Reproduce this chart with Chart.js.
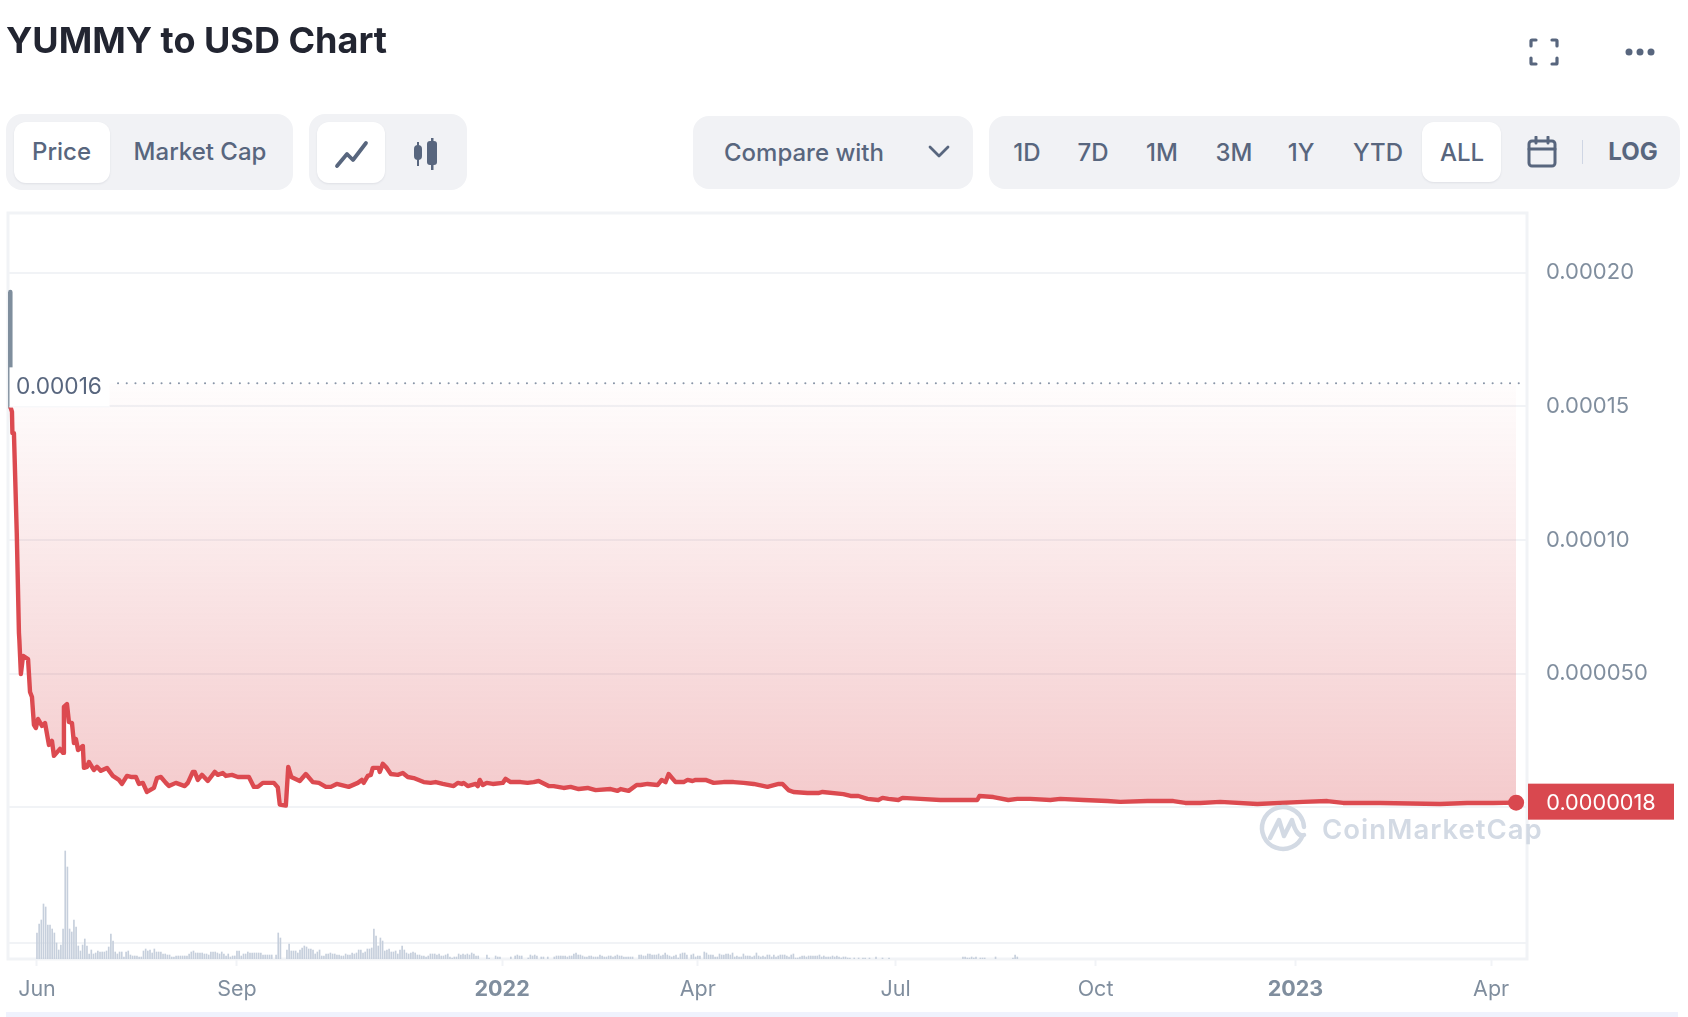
<!DOCTYPE html>
<html>
<head>
<meta charset="utf-8">
<title>YUMMY to USD Chart</title>
<script src="https://cdn.jsdelivr.net/npm/chart.js@4"></script>
<style>
  html, body { margin: 0; padding: 0; background: #fff; }
  body { position: relative; width: 1688px; height: 1017px; overflow: hidden; font-family: Inter, sans-serif; color: #58667e; }
  canvas { position: absolute; left: 0; top: 0; }
  .abs { position: absolute; }
  .title { left: 6px; top: 18px; font-size: 36px; line-height: 44px; font-weight: 700; color: #222531; white-space: nowrap; }
  .group { background: #f1f2f5; border-radius: 16px; }
  .on { background: #fff; border-radius: 12px; box-shadow: 0 1px 2px rgba(88,102,126,0.12); }
  .lbl { top: 134px; height: 36px; line-height: 36px; font-size: 24px; font-weight: 500; white-space: nowrap; transform: translateX(-50%); }
  .strip { left: 6px; top: 1012px; width: 1672px; height: 5px; background: #eff2fd; }
</style>
</head>
<body>
<canvas id="priceChart" width="1688" height="1017"></canvas>

<div class="abs title">YUMMY to USD Chart</div>

<div class="abs group" style="left:6px;top:114px;width:287px;height:76px"></div>
<div class="abs on" style="left:14px;top:122px;width:96px;height:61px"></div>
<div class="abs lbl" style="left:61.5px">Price</div>
<div class="abs lbl" style="left:200px">Market Cap</div>

<div class="abs group" style="left:309px;top:114px;width:158px;height:76px"></div>
<div class="abs on" style="left:317px;top:122px;width:68px;height:61px"></div>
<svg class="abs" style="left:334px;top:139px" width="36" height="30" viewBox="0 0 36 30" fill="none" stroke="#58667e" stroke-width="3.8" stroke-linecap="round" stroke-linejoin="round"><path d="M3 27 L13 15 L19 21 L32 4"/></svg>
<svg class="abs" style="left:412px;top:138px" width="28" height="32" viewBox="0 0 28 32" fill="#58667e"><rect x="2" y="7" width="8" height="15" rx="4"/><rect x="5" y="4" width="2" height="24"/><rect x="15" y="3" width="10" height="24" rx="3"/><rect x="19" y="0" width="2.5" height="32"/></svg>

<div class="abs group" style="left:693px;top:116px;width:280px;height:73px"></div>
<div class="abs lbl" style="left:804px;top:135px">Compare with</div>
<svg class="abs" style="left:927px;top:144px" width="24" height="16" viewBox="0 0 24 16" fill="none" stroke="#58667e" stroke-width="2.8" stroke-linecap="round" stroke-linejoin="round"><path d="M3 3 L12 12 L21 3"/></svg>

<div class="abs group" style="left:989px;top:116px;width:691px;height:73px"></div>
<div class="abs on" style="left:1422px;top:122px;width:79px;height:60px"></div>
<div class="abs lbl" style="left:1027px;top:135px">1D</div>
<div class="abs lbl" style="left:1093px;top:135px">7D</div>
<div class="abs lbl" style="left:1162px;top:135px">1M</div>
<div class="abs lbl" style="left:1234px;top:135px">3M</div>
<div class="abs lbl" style="left:1301px;top:135px">1Y</div>
<div class="abs lbl" style="left:1378px;top:135px">YTD</div>
<div class="abs lbl" style="left:1462px;top:135px">ALL</div>
<svg class="abs" style="left:1527px;top:136px" width="30" height="32" viewBox="0 0 30 32" fill="none" stroke="#58667e" stroke-width="3" stroke-linecap="round"><rect x="2" y="5" width="26" height="25" rx="3"/><path d="M2 13 H28 M9 1 V7 M21 1 V7"/></svg>
<div class="abs" style="left:1582px;top:140px;width:1px;height:24px;background:#cfd6e4"></div>
<div class="abs lbl" style="left:1633px;font-weight:700">LOG</div>

<svg class="abs" style="left:1529px;top:38px" width="30" height="28" viewBox="0 0 30 28" fill="none" stroke="#58667e" stroke-width="3.2" stroke-linecap="round" stroke-linejoin="round"><path d="M2 8 V3 Q2 2 3 2 H7 M23 2 H27 Q28 2 28 3 V8 M28 20 V25 Q28 26 27 26 H23 M7 26 H3 Q2 26 2 25 V20"/></svg>
<svg class="abs" style="left:1624px;top:46px" width="32" height="12" viewBox="0 0 32 12" fill="#58667e"><circle cx="5" cy="6" r="3.5"/><circle cx="16" cy="6" r="3.5"/><circle cx="27" cy="6" r="3.5"/></svg>

<div class="abs strip"></div>

<script>
// all days are counted from 1 Jun 2021
const tickDays = [0, 92, 214, 304, 395, 487, 579, 669];
const tickLabels = ["Jun", "Sep", "2022", "Apr", "Jul", "Oct", "2023", "Apr"];
const yearLabels = ["2022", "2023"];

const yTicks = [0, 0.00005, 0.0001, 0.00015, 0.0002];
const yTickLabels = ["", "0.000050", "0.00010", "0.00015", "0.00020"];

const baselinePrice = 0.0001586;
const baselineLabel = "0.00016";
const lastPriceLabel = "0.0000018";

const priceDays = [
  -12.4, -12.3, -12.2, -11.5, -11.3, -10.6, -9.3, -8.3, -8.1, -7.4, -6.4, -4.1, -3.2, -2.3, -1.4, -0.5,
  0.5, 2.3, 3.7, 5.5, 6.9, 7.8, 10.6, 12, 12.4, 13.8, 14.7, 16.1, 17, 17.9, 18.9, 21.1,
  21.6, 23, 23.9, 26.2, 27.6, 29.4, 32.2, 34.9, 37.7, 39.1, 41.4, 43.2, 45.5, 46.9, 48.7, 50.6,
  53.8, 55.2, 57, 59.3, 60.7, 63.9, 68, 69.4, 71.7, 72.6, 74, 75.9, 78.6, 81.8, 83.2, 85.5,
  86.9, 89.7, 92.4, 97.5, 99.8, 101.6, 103.9, 109, 110.8, 111.7, 114.5, 115.6, 117, 120.9, 123.7, 126.9,
  129.7, 132.9, 135.2, 137.9, 143.4, 147.6, 149.4, 150.3, 152.2, 153.6, 154.5, 157.2, 157.7, 159.1, 160.9, 162.8,
  166, 168.3, 170.6, 173.3, 177.9, 181.1, 183.4, 186.7, 191.7, 193.6, 195.4, 196.3, 198.2, 201.8, 202.8, 203.7,
  205.1, 206.9, 209.7, 214.3, 215.6, 217.9, 222.5, 225.7, 228.5, 230.8, 235.4, 237.7, 242.3, 245.5, 249.2, 253.3,
  257, 263.9, 267.1, 268.5, 272.2, 275.9, 277.7, 280.9, 285.5, 287.4, 289.2, 290.6, 293.8, 297.5, 299.3, 301.6,
  303, 307.6, 311.3, 315.9, 320.5, 325.1, 329.7, 336.1, 341.2, 343, 345.7, 348, 354.5, 359.5, 361.4, 371,
  374.3, 377.9, 382.1, 387.1, 389, 391.7, 396.3, 398.2, 406.4, 415.6, 421.6, 432.6, 433.6, 440, 446.9, 451,
  457, 466.2, 470.8, 481.4, 492.4, 498.4, 510.8, 522.8, 528.3, 535.2, 544.4, 561.4, 582.5, 593.6, 600.9, 617.9,
  645.5, 658, 669.9, 680.5
];

// price in units of 0.00001 USD
const priceE5 = [
  19.28, 16.36, 14.98, 14.79, 14.0, 14.0, 10.27, 6.53, 6.26, 4.99, 5.67, 5.55, 4.32, 4.13, 3.09, 2.97,
  3.31, 3.05, 3.16, 2.34, 2.49, 1.93, 2.19, 2.04, 3.76, 3.87, 3.20, 3.16, 2.41, 2.56, 2.15, 2.30,
  1.48, 1.52, 1.70, 1.40, 1.52, 1.37, 1.48, 1.18, 1.03, 0.88, 1.18, 1.14, 1.14, 0.88, 0.92, 0.58,
  0.73, 1.10, 1.14, 0.92, 0.80, 0.92, 0.80, 0.92, 1.33, 1.33, 1.03, 1.22, 0.99, 1.33, 1.22, 1.29,
  1.18, 1.22, 1.14, 1.14, 0.77, 0.77, 0.92, 0.92, 0.75, 0.11, 0.07, 1.52, 1.14, 0.99, 1.25, 0.95,
  0.92, 0.77, 0.77, 0.88, 0.77, 0.92, 1.03, 0.92, 1.18, 1.22, 1.48, 1.48, 1.33, 1.63, 1.48, 1.25,
  1.22, 1.29, 1.14, 1.10, 0.95, 0.92, 0.95, 0.88, 0.80, 0.92, 0.88, 0.92, 0.80, 0.88, 0.80, 1.03,
  0.84, 0.92, 0.88, 0.92, 1.07, 0.95, 0.95, 0.92, 0.95, 0.99, 0.80, 0.80, 0.73, 0.77, 0.69, 0.73,
  0.65, 0.69, 0.62, 0.69, 0.62, 0.84, 0.84, 0.88, 0.84, 1.03, 0.95, 1.25, 0.95, 0.95, 1.03, 0.99,
  1.03, 1.03, 0.92, 0.95, 0.95, 0.92, 0.88, 0.77, 0.88, 0.88, 0.65, 0.58, 0.54, 0.54, 0.58, 0.50,
  0.43, 0.43, 0.32, 0.28, 0.36, 0.32, 0.28, 0.36, 0.32, 0.28, 0.28, 0.28, 0.43, 0.39, 0.28, 0.32,
  0.32, 0.28, 0.32, 0.28, 0.24, 0.21, 0.24, 0.24, 0.17, 0.17, 0.21, 0.13, 0.21, 0.24, 0.17, 0.17,
  0.13, 0.17, 0.17, 0.18
];

// volume, relative units, one value per day from the start day
const volumeA = [26, 35, 39, 55, 52, 34, 34, 30, 26, 16, 9, 14, 30, 108, 92, 30, 27, 39, 32, 13, 8, 14, 20, 13, 5, 9, 5, 6, 8, 7, 7, 7, 8, 12, 25, 18, 7, 5, 7, 7, 2, 7, 8, 4, 3, 3, 3, 2, 2, 8, 10, 8, 9, 6, 10, 7, 7, 7];
const volumeAStart = 0;
const volumeB = [5, 5, 4, 4, 2, 2, 3, 3, 3, 3, 3, 3, 5, 7, 8, 6, 6, 6, 6, 5, 5, 4, 7, 7, 7, 6, 5, 7, 5, 3, 5, 2, 3, 3, 8, 8, 3, 5, 5, 7, 6];
const volumeBStart = 58;
const volumeC = [6, 6, 6, 6, 6, 4, 4, 4, 4, 4, 0, 4, 26, 21, 0, 0, 9, 15, 8, 8, 8, 6, 9, 11, 13, 12, 10, 10, 9, 5, 7, 9, 3, 3, 5, 5, 6, 5, 5, 4, 4, 3, 3, 5, 4, 4, 6, 5, 6, 9, 9, 6, 7, 10, 10, 11, 30, 23, 13, 21, 18, 8, 9, 10, 7, 7, 8, 5, 9, 13, 9, 6, 5, 6, 7, 6, 4, 4, 3, 3, 2, 3, 5, 5, 5, 4, 5, 3, 3, 4, 5, 2, 1, 2, 2, 5, 4, 5, 4, 5, 4, 6, 5, 3, 3, 0, 0, 0, 4, 1, 0, 0, 3, 2, 2, 0, 0, 0, 0, 2, 0, 3, 4, 3, 3, 0, 0, 1, 4, 3, 4, 3, 0, 2, 2, 0, 2];
const volumeCStart = 99;
const volumeD = [2, 3, 3, 3, 3, 3, 2, 3, 3, 5, 6, 4, 4, 3, 2, 2, 3, 3, 2, 2, 2, 4, 3, 2, 2, 3, 3, 2, 3, 4, 3, 3, 2, 2, 2, 2, 2, 0, 0, 4, 4, 3, 3, 5, 5, 4, 4, 4, 5, 3, 4, 6, 4, 3, 2, 3, 4, 1, 5, 6, 6, 4, 0, 4, 5, 2, 3, 3, 0, 7, 6, 4, 4, 4, 2, 2, 5, 4, 4, 5, 5, 4, 6, 2, 3, 2, 2, 5, 3, 3, 3, 2, 3, 6, 3, 2, 3, 2, 4, 4, 2, 4, 2, 3, 4, 4, 4, 3, 2, 4, 5, 1, 1, 2, 3, 3, 2, 3, 3, 3, 3, 3, 4, 2, 3, 2, 2, 2, 3, 2, 3, 2, 1, 2, 2, 1, 1, 0, 1, 0, 1, 0, 1, 1];
const volumeDStart = 238;
const volumeLateDays = [383, 386, 389, 392, 426, 427, 428, 429, 430, 431, 432, 434, 435, 436, 441, 449, 450, 451];
const volumeLate = [1, 2, 1, 1, 2, 2, 1, 1, 2, 1, 2, 1, 1, 1, 2, 1, 4, 2];

const red = "#dc4a50";
const lineGrey = "#7f8e9d";
const gridColor = "#f1f3f6";
const tickColor = "#808e9e";

const pricePoints = priceDays.map((d, i) => ({ x: d, y: priceE5[i] * 1e-5 }));

const volumePoints = [];
const addRun = (start, values) => {
  values.forEach((v, i) => {
    if (v > 0) volumePoints.push({ x: start + i, y: v });
  });
};
addRun(volumeAStart, volumeA);
addRun(volumeBStart, volumeB);
addRun(volumeCStart, volumeC);
addRun(volumeDStart, volumeD);
volumeLateDays.forEach((d, i) => volumePoints.push({ x: d, y: volumeLate[i] }));

const overlays = {
  id: "overlays",
  beforeDatasetsDraw(chart) {
    const { ctx, chartArea: a } = chart;
    ctx.save();
    ctx.strokeStyle = gridColor;
    ctx.lineWidth = 3;
    ctx.strokeRect(a.left, a.top, a.right - a.left, a.bottom - a.top);
    ctx.restore();
  },
  afterDatasetsDraw(chart) {
    const { ctx, chartArea: a, scales } = chart;
    const baseY = scales.y.getPixelForValue(baselinePrice);
    const lastY = scales.y.getPixelForValue(priceE5[priceE5.length - 1] * 1e-5);
    ctx.save();

    // starting price marker
    ctx.fillStyle = "#ffffff";
    ctx.fillRect(a.left + 1.5, baseY - 16, 100, 40);
    ctx.fillStyle = "#f3f4f7";
    ctx.fillRect(a.left + 1.5, baseY + 23, 100, 1);
    ctx.strokeStyle = "#8a96a8";
    ctx.lineWidth = 2;
    ctx.lineCap = "round";
    ctx.setLineDash([0.1, 8.6]);
    ctx.beginPath();
    ctx.moveTo(118, baseY);
    ctx.lineTo(a.right - 6, baseY);
    ctx.stroke();
    ctx.setLineDash([]);
    ctx.fillStyle = "#58667e";
    ctx.font = "400 22.7px Inter";
    ctx.textAlign = "left";
    ctx.textBaseline = "middle";
    ctx.fillText(baselineLabel, 16, baseY + 3.5);

    // watermark
    ctx.fillStyle = "#d3dae4";
    ctx.font = "600 27.5px Inter";
    ctx.letterSpacing = "1px";
    ctx.fillText("CoinMarketCap", 1322, 831);
    ctx.letterSpacing = "0px";
    ctx.strokeStyle = "#d3dae4";
    ctx.lineWidth = 4.5;
    ctx.beginPath();
    ctx.arc(1283, 828, 21, 0.35, Math.PI * 2 - 0.05, false);
    ctx.stroke();
    ctx.lineCap = "round";
    ctx.lineJoin = "round";
    ctx.beginPath();
    ctx.moveTo(1270, 838);
    ctx.lineTo(1279, 820);
    ctx.lineTo(1284, 836);
    ctx.lineTo(1292, 820);
    ctx.quadraticCurveTo(1297, 838, 1304, 835);
    ctx.stroke();

    // last price tag
    ctx.fillStyle = "#d9484f";
    ctx.fillRect(1528, lastY - 19, 146, 36);
    ctx.fillStyle = "#ffffff";
    ctx.font = "400 21.7px Inter";
    ctx.textAlign = "center";
    ctx.fillText(lastPriceLabel, 1601, lastY + 0.5);
    ctx.restore();
  },
};

new Chart(document.getElementById("priceChart"), {
  type: "bar",
  data: {
    datasets: [
      {
        type: "line",
        label: "Price",
        data: pricePoints,
        xAxisID: "x",
        yAxisID: "y",
        borderColor: red,
        borderWidth: 4.4,
        tension: 0,
        borderJoinStyle: "round",
        pointRadius: (ctx) => (ctx.dataIndex === pricePoints.length - 1 ? 8 : 0),
        pointBackgroundColor: "#d9484f",
        pointBorderWidth: 0,
        backgroundColor: (ctx) => {
          const area = ctx.chart.chartArea;
          if (!area) return "rgba(217,72,78,0.2)";
          const y = ctx.chart.scales.y;
          const g = ctx.chart.ctx.createLinearGradient(0, y.getPixelForValue(baselinePrice), 0, y.getPixelForValue(0));
          g.addColorStop(0, "rgba(217,72,78,0.01)");
          g.addColorStop(1, "rgba(217,72,78,0.29)");
          return g;
        },
        fill: { target: { value: baselinePrice }, above: "rgba(0,0,0,0)" },
        segment: {
          borderColor: (ctx) => (ctx.p0.parsed.y > baselinePrice ? lineGrey : red),
        },
        order: 1,
      },
      {
        label: "Volume",
        data: volumePoints,
        xAxisID: "x",
        yAxisID: "yVolume",
        backgroundColor: "#c6cfdc",
        barThickness: 1,
        order: 2,
      },
    ],
  },
  options: {
    responsive: false,
    animation: false,
    events: [],
    layout: { padding: { left: 7, top: 213, right: 0, bottom: 0 } },
    plugins: {
      legend: { display: false },
      tooltip: { enabled: false },
    },
    scales: {
      x: {
        type: "linear",
        offset: false,
        min: -13.33,
        max: 685.5,
        afterBuildTicks: (axis) => {
          axis.ticks = tickDays.map((d) => ({ value: d }));
        },
        afterFit: (axis) => {
          axis.height = 58;
        },
        border: { display: false },
        grid: {
          offset: false,
          drawOnChartArea: false,
          drawTicks: true,
          tickLength: 7,
          tickWidth: 2,
          tickColor: gridColor,
        },
        ticks: {
          autoSkip: false,
          maxRotation: 0,
          padding: 11,
          color: tickColor,
          font: (ctx) => {
            const isYear = ctx.tick && yearLabels.includes(ctx.tick.label);
            return { family: "Inter", size: 21.5, weight: isYear ? "700" : "400" };
          },
          callback: (value) => tickLabels[tickDays.indexOf(value)],
        },
      },
      y: {
        position: "right",
        min: -0.00005666,
        max: 0.0002223,
        afterBuildTicks: (axis) => {
          axis.ticks = yTicks.map((v) => ({ value: v }));
        },
        afterFit: (axis) => {
          axis.width = 161;
        },
        border: { display: false },
        grid: { color: gridColor, lineWidth: 2, drawTicks: false },
        ticks: {
          padding: 19,
          color: tickColor,
          font: { family: "Inter", size: 22 },
          callback: (value) => yTickLabels[yTicks.indexOf(value)],
        },
      },
      yVolume: {
        position: "left",
        min: 0,
        max: 746,
        afterBuildTicks: (axis) => {
          axis.ticks = [{ value: 16 }];
        },
        afterFit: (axis) => {
          axis.width = 0;
        },
        border: { display: false },
        grid: { color: gridColor, lineWidth: 2, drawTicks: false },
        ticks: { display: false },
      },
    },
  },
  plugins: [overlays],
});
</script>
</body>
</html>
